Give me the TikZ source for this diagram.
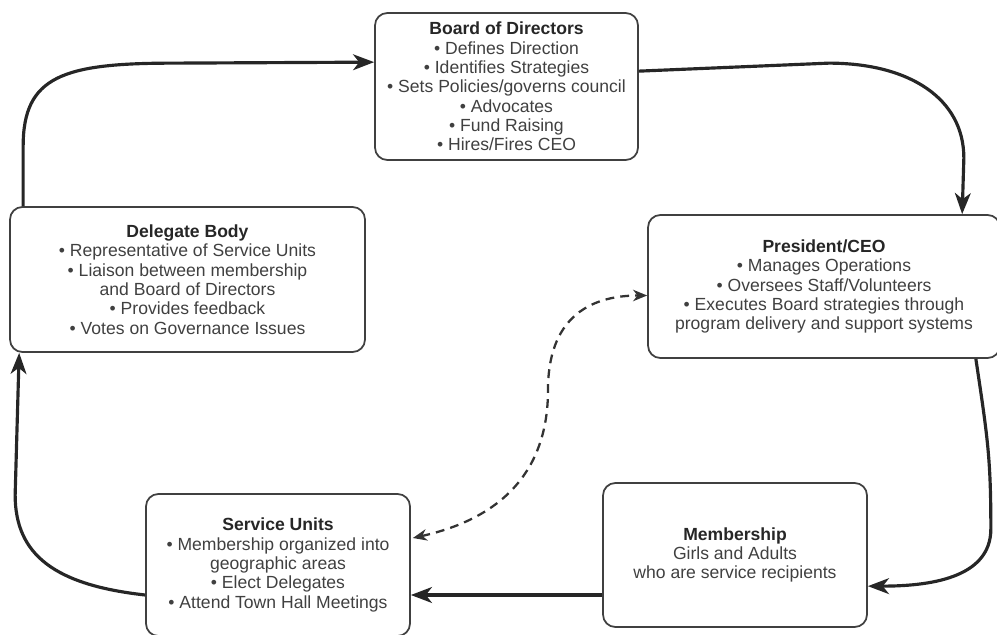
\documentclass[tikz,border=0pt]{standalone}
\usepackage{fontspec}
\setmainfont{Liberation Sans}
\usepackage{tikz}
\usetikzlibrary{arrows.meta,calc}

\newcommand{\unithead}[1]{{\bfseries\color{black!85}#1}}

\begin{document}
\begin{tikzpicture}[
x=0.02cm,
y=-0.02cm,
unit/.style={
  draw=black!75,
  line width=1pt,
  rounded corners=7pt,
  align=center,
  font=\fontsize{10}{11}\selectfont,
  text=black!75,
  inner sep=0pt
  },
flow/.style={
  ->,
  line width=1.8pt,
  draw=black!85
  },
link/.style={
  <->,
  line width=1.3pt,
  dash pattern=on 5pt off 3.5pt,
  draw=black!80,
  >={Stealth[length=8pt,width=6.5pt,inset=2.5pt]}
  },
>={Stealth[length=12pt,width=9pt,inset=3.5pt]}
]

\useasboundingbox (0,0) rectangle (997,635);

\node[unit, minimum width=5.26cm, minimum height=2.94cm] (board) at (506.5,86.5)
  {\unithead{Board of Directors}\\
   \textbullet\ Defines Direction\\
   \textbullet\ Identifies Strategies\\
   \textbullet\ Sets Policies/governs council\\
   \textbullet\ Advocates\\
   \textbullet\ Fund Raising\\
   \textbullet\ Hires/Fires CEO};
\node[unit, minimum width=7.04cm, minimum height=2.86cm] (pres) at (824,286.5)
  {\unithead{President/CEO}\\
   \textbullet\ Manages Operations\\
   \textbullet\ Oversees Staff/Volunteers\\
   \textbullet\ Executes Board strategies through\\
   program delivery and support systems};
\node[unit, minimum width=7.1cm, minimum height=2.9cm] (dele) at (187.5,279.5)
  {\unithead{Delegate Body}\\
   \textbullet\ Representative of Service Units\\
   \textbullet\ Liaison between membership\\
   and Board of Directors\\
   \textbullet\ Provides feedback\\
   \textbullet\ Votes on Governance Issues};
\node[unit, minimum width=5.28cm, minimum height=2.84cm] (serv) at (278,565)
  {\unithead{Service Units}\\
   \textbullet\ Membership organized into\\
   geographic areas\\
   \textbullet\ Elect Delegates\\
   \textbullet\ Attend Town Hall Meetings};
\node[unit, minimum width=5.28cm, minimum height=2.88cm] (memb) at (735,555)
  {\unithead{Membership}\\
   Girls and Adults\\
   who are service recipients};

% the governance cycle
\draw[flow] ($(dele.north west)+(14,0)$) -- ++(0,-60)
  .. controls +(0,-70) and +(-110,0) .. ++(150,-83)
  -- ($(board.north west)+(0,50)$);
\draw[flow] ($(board.north east)+(0,59)$) -- ++(190,-8)
  .. controls +(80,0) and +(0,-60) .. ++(135,95)
  -- ($(pres.north west)+(315,0)$);
\draw[flow] ($(pres.south east)+(-25,0)$)
  .. controls +(12,80) and +(0,-70) .. ++(15,170)
  .. controls +(0,50) and +(60,0) .. ($(memb.north east)+(0,104)$);
\draw[flow] ($(memb.west)+(0,40)$) -- ($(serv.east)+(0,30)$);
\draw[flow] ($(serv.west)+(0,30)$)
  .. controls +(-90,-10) and +(0,60) .. ++(-130,-100)
  -- ($(dele.south west)+(10,0)$);

% two-way link
\coordinate (bend) at (548,390);
\draw[link] ($(serv.east)+(2,-27)$)
  .. controls +(90,-20) and +(0,80) .. (bend)
  .. controls +(0,-70) and +(-60,0) .. ($(pres.west)+(0,9)$);
\end{tikzpicture}
\end{document}
